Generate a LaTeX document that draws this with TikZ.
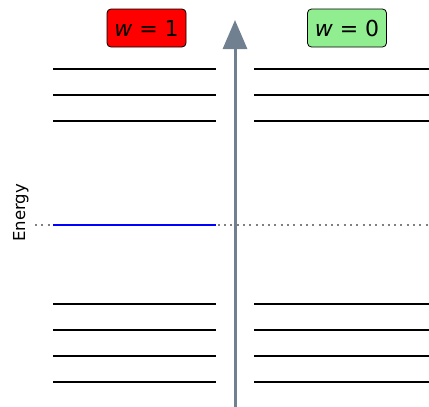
\documentclass[tikz,border=0pt]{standalone}
\usepackage{fontspec}
\setmainfont{DejaVu Sans}
\usetikzlibrary{arrows.meta}
\definecolor{slate}{HTML}{708090}
\definecolor{lgreen}{HTML}{90EE90}
\begin{document}
\begin{tikzpicture}[x=1pt,y=-1pt,
  level/.style={line width=2pt,black},
  tag/.style={draw=black,line width=0.8pt,rounded corners=4pt,minimum width=79pt,minimum height=38pt,inner sep=0pt,font=\fontsize{22}{25}\selectfont},
  axis/.style={line width=3pt,slate,-{Triangle[length=29pt,width=24pt]}},
  ref/.style={line width=2pt,gray,dash pattern=on 2pt off 4.3pt}]
\useasboundingbox (0,0) rectangle (429,407);
% reference (dotted) line
\coordinate (d0) at (35,225);
\coordinate (d1) at (429,225);
\draw[ref] (d0) -- (d1);
% levels
\foreach \y in {69,95,121,304,330,356,382}{
  \draw[level] (53,\y) -- (215.5,\y);
  \draw[level] (254,\y) -- (429,\y);
}
\draw[line width=2pt,blue] (53,225) -- (215.5,225);
% axis
\coordinate (a0) at (235,407);
\coordinate (a1) at (235,20);
\draw[axis] (a0) -- (a1);
% labels
\node[tag,fill=red] (w1) at (146.5,28) {\textit{w} = 1};
\node[tag,fill=lgreen] (w0) at (347,28) {\textit{w} = 0};
\node[rotate=90,anchor=base,font=\fontsize{16.5}{19}\selectfont] (en) at (25,213) {Energy};
\end{tikzpicture}
\end{document}
